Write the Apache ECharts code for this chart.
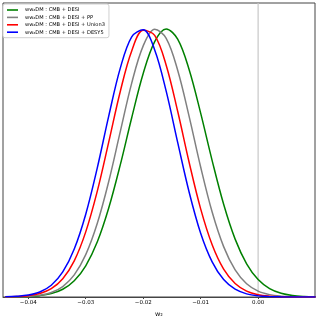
<!DOCTYPE html>
<html><head><meta charset="utf-8">
<script src="https://cdn.jsdelivr.net/npm/echarts@6/dist/echarts.min.js"></script>
<style>html,body{margin:0;padding:0;background:#fff}#c{width:319px;height:318px}</style>
</head><body><div id="c"></div>
<script>
const w2 = [-0.044,-0.042,-0.040,-0.038,-0.036,-0.034,-0.032,-0.030,-0.028,-0.026,-0.024,-0.022,-0.020,-0.018,-0.016,-0.014,-0.012,-0.010,-0.008,-0.006,-0.004,-0.002,0.000,0.002,0.004,0.006,0.008,0.010];
const seriesNames = ["ww\u2082DM : CMB + DESI","ww\u2082DM : CMB + DESI + PP","ww\u2082DM : CMB + DESI + Union3","ww\u2082DM : CMB + DESI + DESY5"];
const seriesColors = ["#008000","#808080","#ff0000","#0000ff"];
const desi = [0.0002,0.0006,0.0019,0.0051,0.0127,0.0289,0.0606,0.1165,0.205,0.332,0.492,0.669,0.834,0.953,1.0,0.962,0.848,0.686,0.509,0.346,0.216,0.124,0.065,0.0313,0.0138,0.0056,0.0021,0.0007];
const desiPP = [0.0002,0.0007,0.0023,0.0065,0.0168,0.039,0.0824,0.158,0.274,0.431,0.616,0.798,0.937,0.999,0.965,0.846,0.673,0.485,0.317,0.188,0.101,0.0493,0.0218,0.0088,0.0032,0.0011,0.0003,0.0001];
const desiUnion3 = [0.0005,0.0016,0.0048,0.0128,0.0311,0.0682,0.135,0.243,0.394,0.578,0.766,0.918,0.995,0.976,0.865,0.693,0.502,0.329,0.195,0.104,0.0504,0.0221,0.0087,0.0031,0.001,0.0003,0.0001,0];
const desiDESY5 = [0.0008,0.0025,0.0071,0.0186,0.0439,0.0934,0.179,0.309,0.481,0.675,0.853,0.971,0.997,0.922,0.768,0.577,0.391,0.238,0.131,0.0649,0.029,0.0117,0.0042,0.0014,0.0004,0.0001,0,0];
const tickValues = [-0.04,-0.03,-0.02,-0.01,0.0];
const tickLabels = ["\u22120.04","\u22120.03","\u22120.02","\u22120.01","0.00"];
const vlineX = 0.0;

const allY = [desi, desiPP, desiUnion3, desiDESY5];
const chart = echarts.init(document.getElementById('c'), null, {renderer:'canvas'});
const F = 'DejaVu Sans';
const series = [{
  type:'line', silent:true, symbol:'none', z:1,
  data:[[vlineX,0],[vlineX,1.097]],
  lineStyle:{color:'#c8c8c8', width:1.2}
}];
allY.forEach((ys,i)=>{
  series.push({
    name: seriesNames[i], type:'line', symbol:'none', smooth:0.35, z:2+i,
    data: w2.map((x,j)=>[x,ys[j]]),
    lineStyle:{color:seriesColors[i], width:1.5},
    itemStyle:{color:seriesColors[i]}
  });
});
chart.setOption({
  animation:false,
  backgroundColor:'#fff',
  grid:{left:3, right:4, top:3, bottom:21, show:true, borderColor:'#444', borderWidth:1, outerBoundsMode:'none', containLabel:false},
  legend:{
    orient:'vertical', left:3, top:4,
    data: seriesNames,
    icon:'rect', itemWidth:11, itemHeight:1.6, itemGap:2.4,
    backgroundColor:'#fff', borderColor:'#d0d0d0', borderWidth:1, borderRadius:2,
    padding:[3.5,4,3,4],
    textStyle:{fontFamily:F, fontSize:5.1, color:'#000', padding:[0,0,0,2]}
  },
  xAxis:{
    type:'value', min:-0.0444, max:0.0099,
    name:'w\u2082', nameLocation:'middle', nameGap:13,
    nameTextStyle:{fontFamily:F, fontSize:6.5, color:'#000'},
    axisLine:{show:true, onZero:false, lineStyle:{color:'#444', width:1}},
    axisTick:{show:true, customValues:tickValues, length:2, lineStyle:{color:'#444'}},
    axisLabel:{customValues:tickValues, fontFamily:F, fontSize:5.5, color:'#000', margin:3,
      formatter:(v)=>{const k=tickValues.findIndex(t=>Math.abs(t-v)<1e-9);return k>=0?tickLabels[k]:'';}},
    splitLine:{show:false}
  },
  yAxis:{type:'value', min:0, max:1.097, show:false, splitLine:{show:false}},
  series
});
</script></body></html>
